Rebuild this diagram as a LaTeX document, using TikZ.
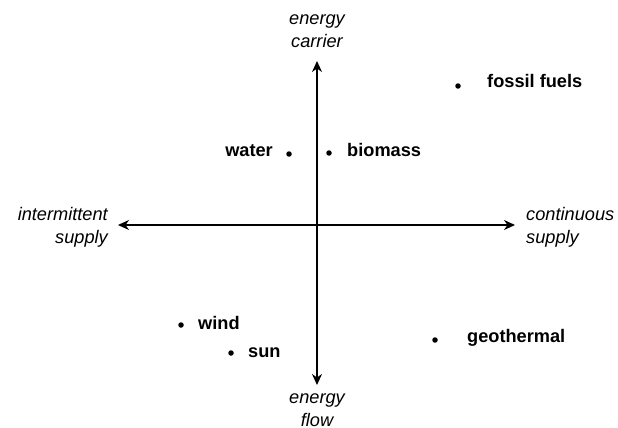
\documentclass[tikz,border=0pt]{standalone}
\usepackage{fontspec}
\setmainfont{Liberation Sans}
\usetikzlibrary{arrows.meta}
\begin{document}
\begin{tikzpicture}[x=1pt,y=-1pt,
  axis/.style={line width=1.5pt,{Stealth[length=11pt,width=10pt,inset=3.5pt]}-{Stealth[length=11pt,width=10pt,inset=3.5pt]}},
  dot/.style={circle,fill=black,inner sep=0pt,minimum size=5.5pt},
  src/.style={font=\fontsize{18.2}{21}\selectfont\bfseries,inner sep=0pt},
  axlab/.style={font=\fontsize{18.2}{23}\selectfont\itshape,inner sep=0pt}]
\useasboundingbox (0,0) rectangle (618,428);
\coordinate (top) at (317,61);
\coordinate (bot) at (317,385);
\coordinate (lft) at (118,225);
\coordinate (rgt) at (515,225);
\draw[axis] (bot) -- (top);
\draw[axis] (lft) -- (rgt);
\node[axlab,align=center,anchor=center] (carrier) at (317,31.5) {energy\\carrier};
\node[axlab,align=center,anchor=center] (flow) at (317,410.5) {energy\\flow};
\node[axlab,align=right,anchor=east] (inter) at (108,227.5) {intermittent\\supply};
\node[axlab,align=left,anchor=west] (cont) at (526,227.5) {continuous\\supply};
\node[dot] (dwater) at (289,154) {};
\node[dot] (dbio) at (329,153) {};
\node[dot] (dfossil) at (458,86) {};
\node[dot] (dwind) at (181,325) {};
\node[dot] (dsun) at (231,353) {};
\node[dot] (dgeo) at (435,340) {};
\node[src,anchor=base east] (water) at (273,156) {water};
\node[src,anchor=base west] (bio) at (347,156) {biomass};
\node[src,anchor=base west] (fossil) at (487,88) {fossil fuels};
\node[src,anchor=base west] (wind) at (198,329) {wind};
\node[src,anchor=base west] (sun) at (248,357) {sun};
\node[src,anchor=base west] (geo) at (467,342) {geothermal};
\end{tikzpicture}
\end{document}
